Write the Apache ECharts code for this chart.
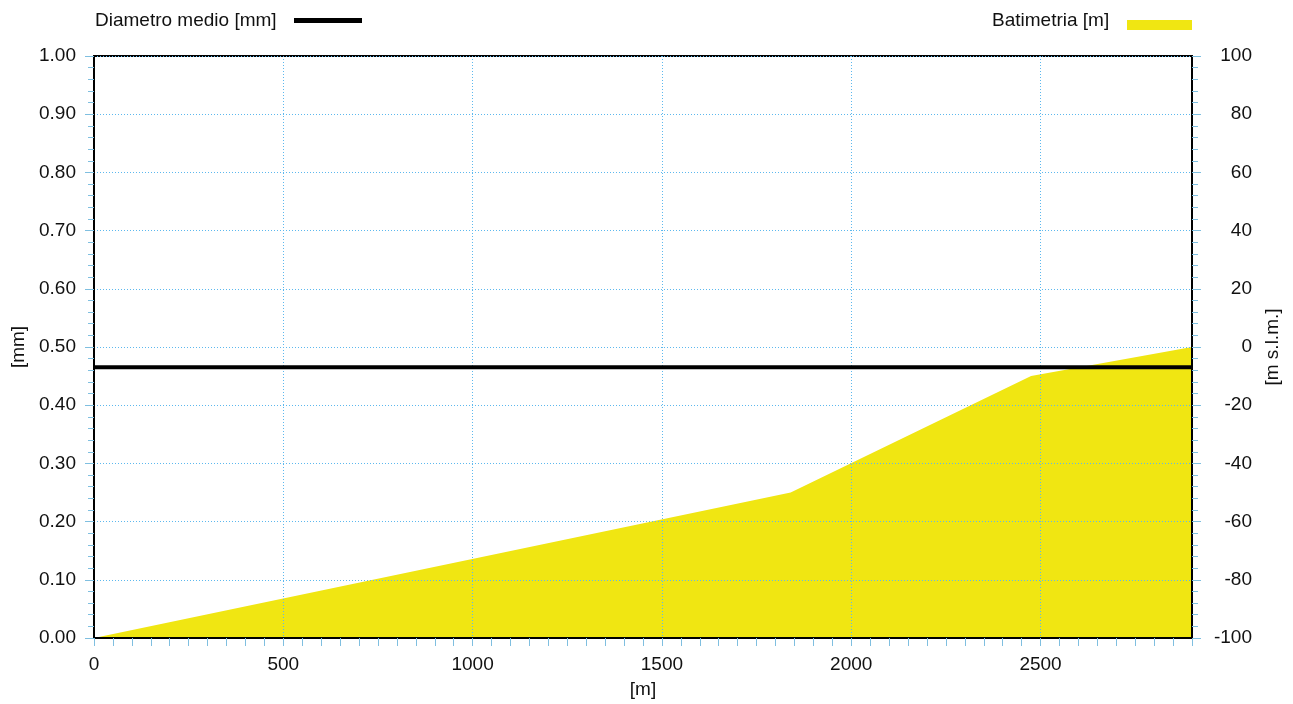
<!DOCTYPE html>
<html>
<head>
<meta charset="utf-8">
<script src="https://cdn.jsdelivr.net/npm/echarts@6/dist/echarts.min.js"></script>
<style>
  html, body { margin: 0; padding: 0; background: #fff; }
  #chart { width: 1293px; height: 704px; }
</style>
</head>
<body>
<div id="chart"></div>
<script>
// distanze [m] e batimetria [m s.l.m.]
const distanze = [0, 1840, 2475, 2900]
const batimetria = [-100, -50, -10, 0]
// diametro medio [mm], costante lungo il profilo
const distanzeDiam = [0, 2900]
const diametro = [0.465, 0.465]

const font = 'Arial, "Liberation Sans", sans-serif'
const tickColor = '#7fbfe0'
const gridColor = '#5cb8ee'

const myChart = echarts.init(document.getElementById('chart'))

const yAxisBase = {
  type: 'value',
  z: 3,
  axisLine: { show: true, lineStyle: { color: '#000', width: 2 } },
  axisTick: { show: true, length: 9, lineStyle: { color: tickColor, width: 1 } },
  minorTick: { show: true, splitNumber: 5, length: 6, lineStyle: { color: tickColor, width: 1 } },
  minorSplitLine: { show: false },
  nameLocation: 'middle',
  nameRotate: 90,
  nameTextStyle: { fontFamily: font, fontSize: 19, color: '#111' }
}

const option = {
  animation: false,
  grid: {
    left: 94, right: 101, top: 56, bottom: 66,
    show: true, borderColor: '#000', borderWidth: 2
  },
  xAxis: {
    type: 'value',
    min: 0,
    max: 2900,
    interval: 500,
    z: 3,
    name: '[m]',
    nameLocation: 'middle',
    nameGap: 42,
    nameTextStyle: { fontFamily: font, fontSize: 19, color: '#111' },
    axisLine: { show: true, lineStyle: { color: '#000', width: 2 } },
    axisTick: { show: true, length: 8, lineStyle: { color: tickColor, width: 1 } },
    minorTick: { show: true, splitNumber: 10, length: 8, lineStyle: { color: tickColor, width: 1 } },
    axisLabel: {
      margin: 17, fontFamily: font, fontSize: 19, color: '#111', showMaxLabel: false,
      formatter: (v) => String(v)
    },
    splitLine: { show: true, lineStyle: { color: gridColor, type: [1, 2], width: 1 } }
  },
  yAxis: [
    {
      ...yAxisBase,
      min: 0,
      max: 1,
      interval: 0.1,
      position: 'left',
      name: '[mm]',
      nameGap: 66,
      axisLabel: {
        margin: 18, fontFamily: font, fontSize: 19, color: '#111',
        formatter: (v) => v.toFixed(2)
      },
      splitLine: { show: true, lineStyle: { color: gridColor, type: [1, 2], width: 1 } }
    },
    {
      ...yAxisBase,
      min: -100,
      max: 100,
      interval: 20,
      position: 'right',
      name: '[m s.l.m.]',
      nameGap: 70,
      axisLabel: {
        margin: 60, align: 'right', fontFamily: font, fontSize: 19, color: '#111'
      },
      splitLine: { show: false }
    }
  ],
  series: [
    {
      name: 'Batimetria [m]',
      type: 'line',
      yAxisIndex: 1,
      z: 1,
      symbol: 'none',
      lineStyle: { width: 0, color: '#f0e612' },
      areaStyle: { color: '#f0e612', opacity: 1, origin: 'start' },
      data: distanze.map((d, i) => [d, batimetria[i]])
    },
    {
      name: 'Diametro medio [mm]',
      type: 'line',
      yAxisIndex: 0,
      z: 5,
      symbol: 'none',
      lineStyle: { width: 4, color: '#000' },
      data: distanzeDiam.map((d, i) => [d, diametro[i]])
    }
  ],
  graphic: [
    {
      type: 'text', left: 95, top: 11,
      style: { text: 'Diametro medio [mm]', font: '19px ' + font, fill: '#111' }
    },
    {
      type: 'rect', left: 294, top: 18,
      shape: { width: 68, height: 5 },
      style: { fill: '#000' }
    },
    {
      type: 'text', left: 992, top: 11,
      style: { text: 'Batimetria [m]', font: '19px ' + font, fill: '#111' }
    },
    {
      type: 'rect', left: 1127, top: 20,
      shape: { width: 65, height: 10 },
      style: { fill: '#f0e612' }
    }
  ]
}

myChart.setOption(option)
</script>
</body>
</html>
